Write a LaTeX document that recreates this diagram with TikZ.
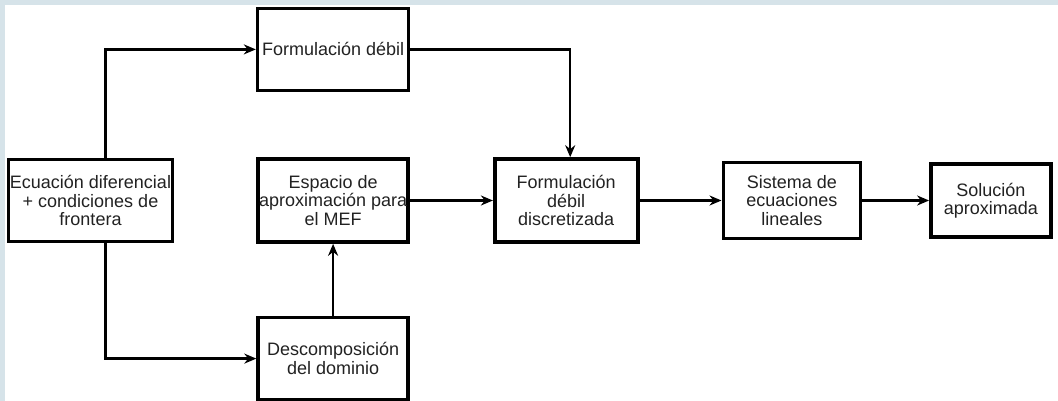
\documentclass[tikz,border=0pt]{standalone}
\usepackage{fontspec}
\setmainfont{Liberation Sans}
\usepackage{tikz}
\usetikzlibrary{arrows.meta,calc,positioning}
\definecolor{bgblue}{RGB}{214,227,233}
\definecolor{txtgray}{RGB}{34,34,34}

\begin{document}
\begin{tikzpicture}[
  x=1pt, y=-1pt,
  >={Stealth[length=12pt,width=10pt]},
  every node/.style={text=txtgray, font=\fontsize{18}{18.5}\selectfont},
  block/.style={draw=black, line width=3.6pt, fill=white, align=center, inner sep=0pt},
  edge/.style={->, line width=2.3pt, draw=black}
]

% ---- page ----
\useasboundingbox (0,0) rectangle (1058,401);
\fill[bgblue] (0,0) rectangle (1058,401);
\fill[white] (5,5) rectangle (1058,401);

% ---- main chain ----
\node[block, minimum width=164pt, minimum height=82pt] (ecu) at (90.5,200.5) {Ecuación diferencial\\+ condiciones de\\frontera};
\node[block, minimum width=150pt, minimum height=83pt] (espacio) [right=82pt of ecu] {Espacio de\\aproximación para\\el MEF};
\node[block, minimum width=143pt, minimum height=83pt] (discret) [right=83pt of espacio] {Formulación\\débil\\discretizada};
\node[block, minimum width=137pt, minimum height=76pt] (sistema) [right=82pt of discret] {Sistema de\\ecuaciones\\lineales};
\node[block, minimum width=120pt, minimum height=73pt] (solucion) [right=67pt of sistema] {Solución\\aproximada};

% ---- branches (top / bottom) ----
\node[block, minimum width=151pt, minimum height=82pt] (debil) [above=65pt of espacio] {Formulación débil};
\node[block, minimum width=150pt, minimum height=82pt] (descomp) [below=72pt of espacio] {Descomposición\\del dominio};

% ---- edges ----
\draw[edge] ([xshift=15pt]ecu.north) |- (debil.west);
\draw[edge] ([xshift=15pt]ecu.south) |- (descomp.west);
\draw[edge] (descomp) -- (espacio);
\draw[edge] (debil.east) -| ([xshift=4pt]discret.north);
\draw[edge] (espacio) -- (discret);
\draw[edge] (discret) -- (sistema);
\draw[edge] (sistema) -- (solucion);

\end{tikzpicture}
\end{document}
